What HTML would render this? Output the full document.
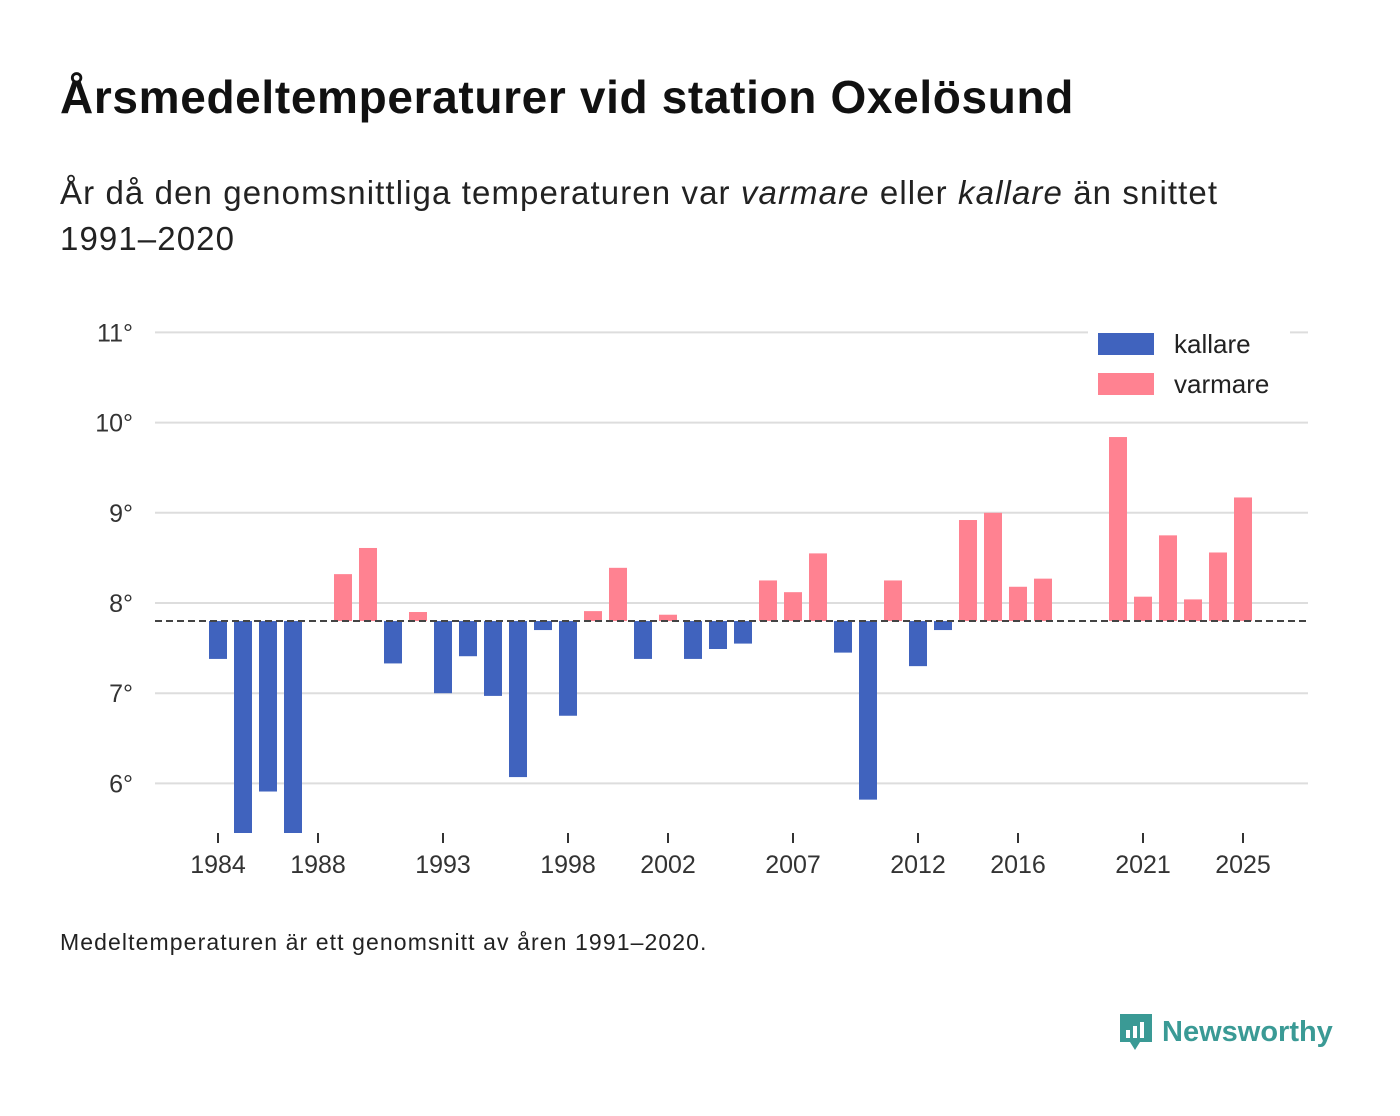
<!DOCTYPE html>
<html><head><meta charset="utf-8">
<style>
body{margin:0;background:#fff;width:1400px;height:1116px;overflow:hidden;font-family:"Liberation Sans",sans-serif;color:#111;}
#title{position:absolute;left:60px;top:70px;font-size:46px;font-weight:bold;margin:0;letter-spacing:0.65px;}
#subtitle{position:absolute;left:60px;top:170px;font-size:33px;line-height:46px;width:1250px;color:#222;letter-spacing:1.1px;}
#note{position:absolute;left:60px;top:929px;font-size:23px;color:#222;letter-spacing:1.1px;}
#logo{position:absolute;left:1118px;top:1010px;display:flex;align-items:center;gap:8px;color:#3a9a95;font-size:29px;font-weight:bold;}
svg{position:absolute;left:0;top:0;}
</style></head><body>
<h1 id="title">Årsmedeltemperaturer vid station Oxelösund</h1>
<div id="subtitle">År då den genomsnittliga temperaturen var <i>varmare</i> eller <i>kallare</i> än snittet <span style="white-space:nowrap">1991–2020</span></div>
<svg id="chart" width="1400" height="1116"></svg>
<div id="note">Medeltemperaturen är ett genomsnitt av åren 1991–2020.</div>
<div id="logo"><svg width="36" height="44" style="position:static"><path d="M2 4h32v28H22l-5 8-5-8H2z" fill="#3a9a95"/><rect x="8" y="20" width="4" height="8" fill="#fff"/><rect x="15" y="16" width="4" height="12" fill="#fff"/><rect x="22" y="12" width="4" height="16" fill="#fff"/></svg><span>Newsworthy</span></div>
<script>
const years=[1984,1985,1986,1987,1989,1990,1991,1992,1993,1994,1995,1996,1997,1998,1999,2000,2001,2002,2003,2004,2005,2006,2007,2008,2009,2010,2011,2012,2013,2014,2015,2016,2017,2020,2021,2022,2023,2024,2025];
const temps=[7.38,5.4,5.91,5.4,8.32,8.61,7.33,7.9,7.0,7.41,6.97,6.07,7.7,6.75,7.91,8.39,7.38,7.87,7.38,7.49,7.55,8.25,8.12,8.55,7.45,5.82,8.25,7.3,7.7,8.92,9.0,8.18,8.27,9.84,8.07,8.75,8.04,8.56,9.17];
const baseline=7.8;
const yTicks=[6,7,8,9,10,11];
const xTicks=[1984,1988,1993,1998,2002,2007,2012,2016,2021,2025];
const NS='http://www.w3.org/2000/svg';
const svg=document.getElementById('chart');
const y=v=>603-(v-8)*90.2;
const x=yr=>218+(yr-1984)*25;
const plotBottom=833;
function mk(t,a){const e=document.createElementNS(NS,t);for(const k in a)e.setAttribute(k,a[k]);svg.appendChild(e);return e;}
yTicks.forEach(t=>{
 const l=mk('line',{x1:155,x2:1308,y1:y(t),y2:y(t),stroke:'#ddd','stroke-width':2});
 
 
 const tx=mk('text',{x:133,y:y(t)+9,'text-anchor':'end','font-size':25,fill:'#333','font-family':'Liberation Sans, sans-serif'});
 tx.textContent=t+'°';
 
 
});
years.forEach((yr,i)=>{
 const v=temps[i];
 const top=Math.max(y(Math.max(v,baseline)),0);
 const bot=Math.min(y(Math.min(v,baseline)),plotBottom);
 const r=mk('rect',{x:x(yr)-9,y:top,width:18,height:bot-top,fill:v<baseline?'#4063be':'#ff8291'});
 
 
});
const bl=mk('line',{x1:155,x2:1308,y1:y(baseline),y2:y(baseline),stroke:'#444','stroke-width':2,'stroke-dasharray':'7,4'});


xTicks.forEach(t=>{
 const l=mk('line',{x1:x(t),x2:x(t),y1:plotBottom,y2:plotBottom+10,stroke:'#333','stroke-width':2});
 
 
 const tx=mk('text',{x:x(t),y:873,'text-anchor':'middle','font-size':25,fill:'#333','font-family':'Liberation Sans, sans-serif'});
 tx.textContent=t;
 
 
});
const lg=mk('rect',{x:1088,y:326,width:202,height:80,fill:'#fff'});


[['kallare','#4063be',344],['varmare','#ff8291',384]].forEach(([n,c,cy])=>{
 const r=mk('rect',{x:1098,y:cy-11,width:56,height:22,fill:c});
 
 
 const t=mk('text',{x:1174,y:cy+9,'font-size':26,fill:'#222','font-family':'Liberation Sans, sans-serif'});
 t.textContent=n;
 
 
});
</script>
</body></html>
